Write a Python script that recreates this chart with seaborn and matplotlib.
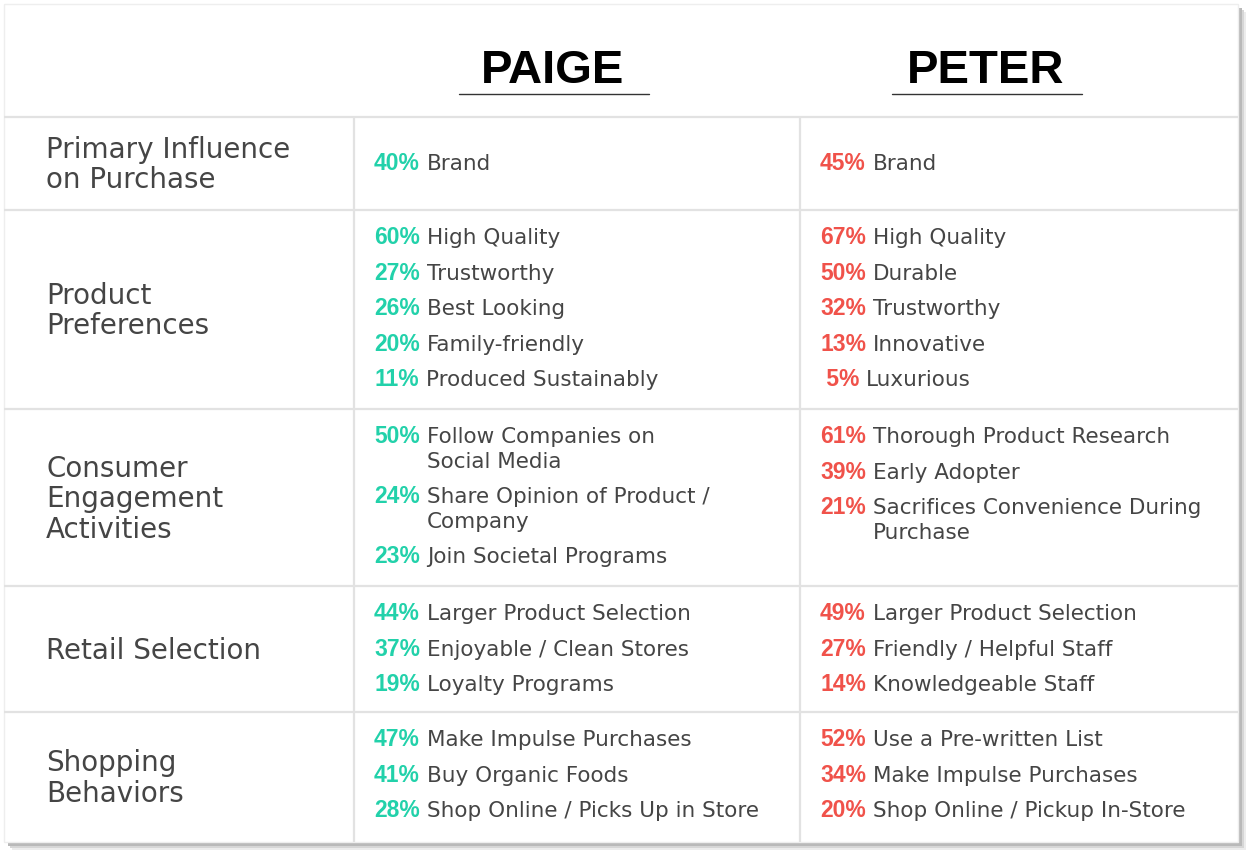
import matplotlib
matplotlib.use("Agg")
import matplotlib.pyplot as plt
import seaborn as sns
from matplotlib.patches import Rectangle

# ---------------- data ----------------
personas = ["PAIGE", "PETER"]
categories = ["Primary Influence\non Purchase", "Product\nPreferences",
              "Consumer\nEngagement\nActivities", "Retail Selection",
              "Shopping\nBehaviors"]
paige_values = [[40], [60, 27, 26, 20, 11], [50, 24, 23], [44, 37, 19], [47, 41, 28]]
paige_labels = [["Brand"],
                ["High Quality", "Trustworthy", "Best Looking", "Family-friendly",
                 "Produced Sustainably"],
                ["Follow Companies on\nSocial Media", "Share Opinion of Product /\nCompany",
                 "Join Societal Programs"],
                ["Larger Product Selection", "Enjoyable / Clean Stores", "Loyalty Programs"],
                ["Make Impulse Purchases", "Buy Organic Foods",
                 "Shop Online / Picks Up in Store"]]
peter_values = [[45], [67, 50, 32, 13, 5], [61, 39, 21], [49, 27, 14], [52, 34, 20]]
peter_labels = [["Brand"],
                ["High Quality", "Durable", "Trustworthy", "Innovative", "Luxurious"],
                ["Thorough Product Research", "Early Adopter",
                 "Sacrifices Convenience During\nPurchase"],
                ["Larger Product Selection", "Friendly / Helpful Staff", "Knowledgeable Staff"],
                ["Use a Pre-written List", "Make Impulse Purchases",
                 "Shop Online / Pickup In-Store"]]

# ---------------- style ----------------
sns.set_theme(style="white")
plt.rcParams['font.family'] = ['DejaVu Sans']

TEAL = "#22d1aa"
RED = "#f0524a"
TEXT = "#454545"
GRID = "#e2e2e2"

W, H = 1250, 855
fig = plt.figure(figsize=(12.5, 8.55), dpi=100, facecolor="white")
ax = fig.add_axes([0, 0, 1, 1])
ax.set_xlim(0, W)
ax.set_ylim(H, 0)
ax.axis("off")
sns.despine(ax=ax, left=True, bottom=True)

# card with shadow
L, T, R, B = 4, 4, 1238, 842
for off, col in [(8, "#ececec"), (6, "#d6d6d6"), (4, "#b9b9b9")]:
    ax.add_patch(Rectangle((L + off, T + off), R - L, B - T, facecolor=col,
                           edgecolor="none", zorder=1))
ax.add_patch(Rectangle((L, T), R - L, B - T, facecolor="white",
                       edgecolor="#eeeeee", lw=1, zorder=2))

# grid
row_edges = [117, 210, 409, 586, 712, B]
col_x = [354, 800]
for y in row_edges[:-1]:
    ax.plot([L, R], [y, y], color=GRID, lw=1.6, zorder=3, solid_capstyle="butt")
for x in col_x:
    ax.plot([x, x], [row_edges[0], B], color=GRID, lw=1.6, zorder=3,
            solid_capstyle="butt")

# headers
head_x = [553, 986]
for name, cx in zip(personas, head_x):
    ax.text(cx, 83, name, ha="center", va="baseline", fontsize=34,
            fontweight="bold", color="black", family="Liberation Sans", zorder=4)
    ax.plot([cx - 94, cx + 96], [94, 94], color="#333333", lw=1.0, zorder=4)

# row labels
LBL_FS = 20
LBL_LINE = 30.5
for i, cat in enumerate(categories):
    lines = cat.split("\n")
    mid = (row_edges[i] + row_edges[i + 1]) / 2
    y0 = mid - (len(lines) - 1) * LBL_LINE / 2
    for k, line in enumerate(lines):
        ax.text(46, y0 + k * LBL_LINE + 9.5, line, ha="left", va="baseline",
                fontsize=LBL_FS, color=TEXT, zorder=4)

renderer = fig.canvas.get_renderer()
ITEM_FS = 15.5
PCT_FS = 16.5
ITEM_GAP = 35.5
WRAP = 24.5


def draw_column(values, labels, x0, color):
    for i, (vals, labs) in enumerate(zip(values, labels)):
        top = row_edges[i]
        if len(vals) == 1:
            y = (row_edges[i] + row_edges[i + 1]) / 2 - 1
        else:
            y = top + 26.5
        for v, lab in zip(vals, labs):
            pct = f"{v}%" if v >= 10 else f" {v}%"
            t = ax.text(x0, y + 7.8, pct, ha="left", va="baseline", fontsize=PCT_FS,
                        fontweight="bold", color=color, family="Liberation Sans",
                        zorder=4)
            bb = t.get_window_extent(renderer)
            lx = x0 + bb.width + 7
            sub = lab.split("\n")
            for k, line in enumerate(sub):
                ax.text(lx, y + 7.5 + k * WRAP, line, ha="left", va="baseline",
                        fontsize=ITEM_FS, color=TEXT, zorder=4)
            y += ITEM_GAP + (len(sub) - 1) * WRAP


draw_column(paige_values, paige_labels, 374, TEAL)
draw_column(peter_values, peter_labels, 820, RED)

fig.savefig("out.png", dpi=100, facecolor="white")
